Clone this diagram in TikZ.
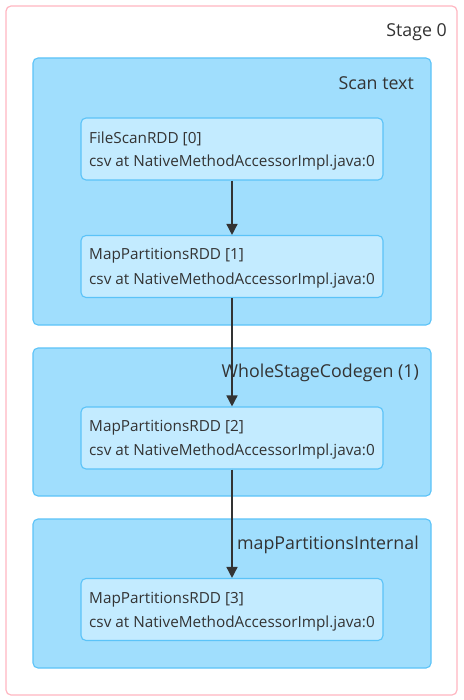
\documentclass[tikz,border=0pt]{standalone}
\usepackage{fontspec}
\setmainfont{Open Sans}
\usetikzlibrary{arrows.meta}
\definecolor{stageborder}{HTML}{FFB6C1}
\definecolor{clusterfill}{HTML}{A0DEFD}
\definecolor{clusterborder}{HTML}{5BC3F8}
\definecolor{nodefill}{HTML}{C3EBFF}
\definecolor{txt}{HTML}{333333}
\begin{document}
\begin{tikzpicture}[x=1pt,y=-1pt,
  stagebox/.style={draw=stageborder,line width=1.2pt,fill=white,rounded corners=5pt},
  clusterbox/.style={draw=clusterborder,line width=1.1pt,fill=clusterfill,rounded corners=5pt},
  rddbox/.style={draw=clusterborder,line width=1.1pt,fill=nodefill,rounded corners=5pt,
    minimum width=302pt,minimum height=62pt,inner sep=0pt},
  rddtxt/.style={anchor=west,text=txt,font=\fontsize{15.3}{17}\selectfont,inner sep=0pt},
  ctitle/.style={anchor=east,text=txt,font=\fontsize{17.8}{21}\selectfont,inner sep=0pt},
  edge/.style={draw=txt,line width=1.5pt,-{Triangle[length=11pt,width=11pt]}}]
\useasboundingbox (0,0) rectangle (463,700);
\path[stagebox] (6,6) rectangle (457,695);
\node[ctitle] (stage) at (447,32) {Stage 0};
% clusters
\path[clusterbox] (33,58) rectangle (431,325);
\node[ctitle] (c1) at (414,83) {Scan text};
\path[clusterbox] (33,348) rectangle (431,496);
\node[ctitle] (c2) at (419,373) {WholeStageCodegen (1)};
\path[clusterbox] (33,519) rectangle (431,668);
\node[ctitle] (c3) at (419,545) {mapPartitionsInternal};
% rdd nodes
\node[rddbox] (n0) at (232,149) {};
\node[rddtxt] (n0a) at (89,139) {FileScanRDD [0]};
\node[rddtxt] (n0b) at (89,163) {csv at NativeMethodAccessorImpl.java:0};
\node[rddbox] (n1) at (232,266.5) {};
\node[rddtxt] (n1a) at (89,256) {MapPartitionsRDD [1]};
\node[rddtxt] (n1b) at (89,281) {csv at NativeMethodAccessorImpl.java:0};
\node[rddbox] (n2) at (232,438) {};
\node[rddtxt] (n2a) at (89,428) {MapPartitionsRDD [2]};
\node[rddtxt] (n2b) at (89,452) {csv at NativeMethodAccessorImpl.java:0};
\node[rddbox] (n3) at (232,609.5) {};
\node[rddtxt] (n3a) at (89,600) {MapPartitionsRDD [3]};
\node[rddtxt] (n3b) at (89,624) {csv at NativeMethodAccessorImpl.java:0};
% edges
\draw[edge] (n0.south) -- (n1.north);
\draw[edge] (n1.south) -- (n2.north);
\draw[edge] (n2.south) -- (n3.north);
\end{tikzpicture}
\end{document}
